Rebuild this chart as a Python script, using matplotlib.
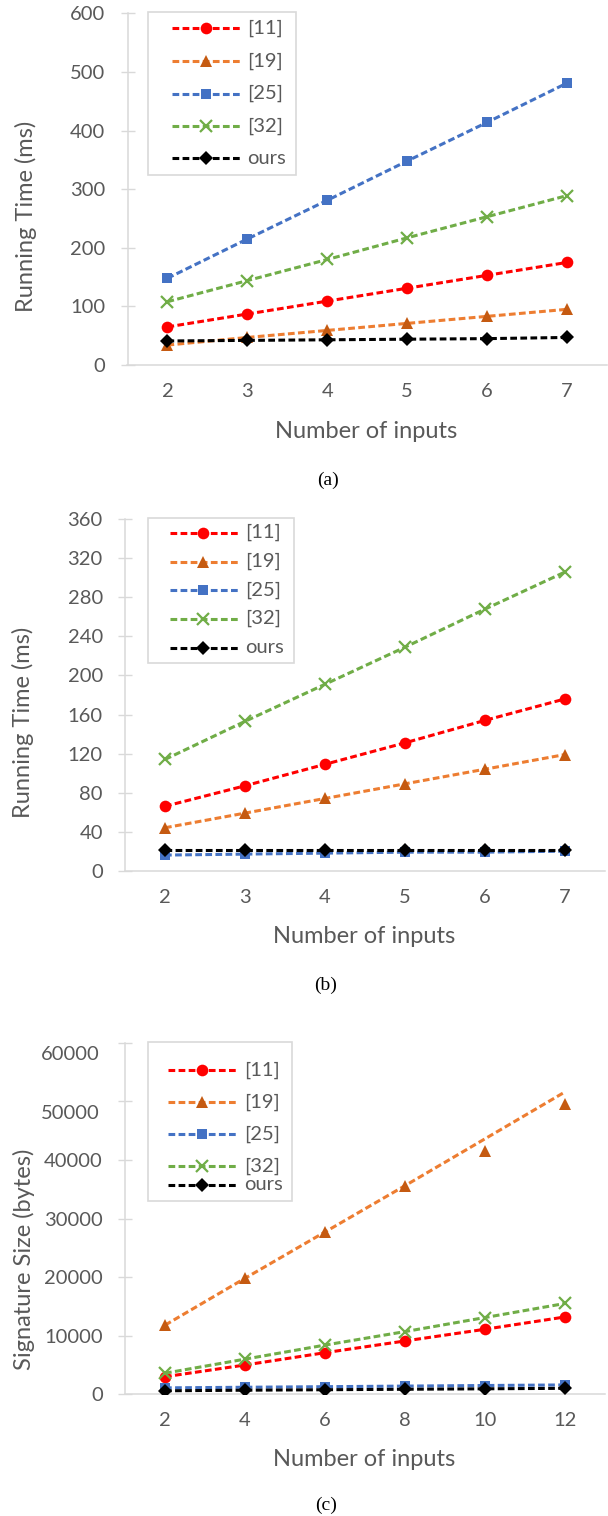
import matplotlib
matplotlib.use("Agg")
import matplotlib.pyplot as plt
from matplotlib.lines import Line2D
from matplotlib.patches import Rectangle

plt.rcParams['font.family'] = ['Lato', 'DejaVu Sans']

# ---------------- data ----------------
series_names = ["[11]", "[19]", "[25]", "[32]", "ours"]

a_x = [2, 3, 4, 5, 6, 7]
a_11 = [65, 87, 109, 131, 153, 175]
a_19 = [34, 47, 59, 71, 83, 95]
a_25 = [148, 215, 281, 348, 414, 481]
a_32 = [108, 144, 180, 217, 253, 289]
a_ours = [41, 42, 43, 44, 45, 47]

b_x = [2, 3, 4, 5, 6, 7]
b_11 = [66, 87, 109, 131, 154, 176]
b_19 = [44, 59, 74, 89, 104, 119]
b_25 = [16, 17, 18, 19, 19, 20]
b_32 = [114, 153, 191, 229, 268, 306]
b_ours = [21, 21, 21, 21, 21, 21]

c_x = [2, 4, 6, 8, 10, 12]
c_11 = [3000, 5000, 7100, 9100, 11100, 13200]
c_19 = [11800, 19800, 27700, 35600, 41500, 49500]
c_19_line = [11800, 19800, 27700, 35600, 43600, 51600]
c_25 = [1100, 1200, 1300, 1400, 1500, 1600]
c_32 = [3600, 6000, 8400, 10700, 13100, 15500]
c_ours = [600, 700, 780, 860, 940, 1020]

a_yticks = [0, 100, 200, 300, 400, 500, 600]
b_yticks = [0, 40, 80, 120, 160, 200, 240, 280, 320, 360]
c_yticks = [0, 10000, 20000, 30000, 40000, 50000, 60000]

# ---------------- style ----------------
W, H = 608, 1516
TXT = '#595959'
AXC = '#D9D9D9'
line_colors = ['#FF0000', '#ED7D31', '#4472C4', '#70AD47', '#000000']
marker_colors = ['#FF0000', '#C55A11', '#4472C4', '#70AD47', '#000000']
markers = ['o', '^', 's', 'x', 'D']
msizes = [8.4, 8.6, 7.4, 8.2, 6.8]
LW = 2.2
DASH = (2.2, 1.1)
TICK_FS = 14.5
LAB_FS = 17
CAP_FS = 14

fig = plt.figure(figsize=(W / 100, H / 100), dpi=100)


def fx(x):
    return x / W


def fy(y):
    return 1 - y / H


def marker_kw(i):
    kw = dict(marker=markers[i], markersize=msizes[i], color=marker_colors[i])
    if markers[i] == 'x':
        kw.update(markeredgewidth=1.6, markeredgecolor=marker_colors[i])
    else:
        kw.update(markeredgewidth=0, markerfacecolor=marker_colors[i])
    return kw


def make_axes(x0, x1, y0, y1):
    ax = fig.add_axes([fx(x0), fy(y1), fx(x1) - fx(x0), (y1 - y0) / H])
    for s in ['top', 'right']:
        ax.spines[s].set_visible(False)
    for s in ['left', 'bottom']:
        ax.spines[s].set_color(AXC)
        ax.spines[s].set_linewidth(1.1)
    ax.tick_params(axis='y', direction='inout', length=10, width=1.0,
                   color=AXC, labelcolor=TXT, labelsize=TICK_FS, pad=11)
    ax.tick_params(axis='x', length=0, labelcolor=TXT, labelsize=TICK_FS, pad=13)
    ax.patch.set_alpha(0)
    return ax


def plot_panel(ax, xs, ys_list, yticks, line_override=None):
    pos = list(range(len(xs)))
    for i, ys in enumerate(ys_list):
        ly = ys
        if line_override is not None and i in line_override:
            ly = line_override[i]
        ax.plot(pos, ly, color=line_colors[i], lw=LW, dashes=DASH,
                zorder=2 + i, dash_capstyle='butt')
        ax.plot(pos, ys, linestyle='none', zorder=2.5 + i, **marker_kw(i))
    ax.set_xlim(-0.5, len(xs) - 0.5)
    ax.set_xticks(pos)
    ax.set_xticklabels([str(v) for v in xs])
    ax.set_ylim(yticks[0], yticks[-1])
    ax.set_yticks(yticks)


def legend(box, ys, hx0, hx1, mx, tx):
    x0, x1, y0, y1 = box
    fig.add_artist(Rectangle((fx(x0), fy(y1)), fx(x1) - fx(x0), (y1 - y0) / H,
                             transform=fig.transFigure, facecolor='white',
                             edgecolor=AXC, lw=1.2, zorder=20))
    for i, y in enumerate(ys):
        fig.add_artist(Line2D([fx(hx0), fx(hx1)], [fy(y), fy(y)],
                              transform=fig.transFigure, color=line_colors[i],
                              lw=LW, dashes=DASH, zorder=21))
        fig.add_artist(Line2D([fx(mx)], [fy(y)], transform=fig.transFigure,
                              linestyle='none', zorder=22, **marker_kw(i)))
        fig.text(fx(tx), fy(y), series_names[i], color=TXT, fontsize=TICK_FS,
                 ha='left', va='center', zorder=23)


# ---------------- panel (a) ----------------
axa = make_axes(127.5, 607, 13.3, 365)
plot_panel(axa, a_x, [a_11, a_19, a_25, a_32, a_ours], a_yticks)
legend((148, 296, 12.3, 175), [28.3, 61, 93.7, 126, 158], 172, 241, 206, 247)
fig.text(fx(366), fy(431), 'Number of inputs', color=TXT, fontsize=LAB_FS,
         ha='center', va='center')
fig.text(fx(25.7), fy(216.7), 'Running Time (ms)', color=TXT, fontsize=LAB_FS,
         ha='center', va='center', rotation=90)
fig.text(fx(328), fy(480), '(a)', family='Liberation Serif', fontsize=CAP_FS,
         color='black', ha='center', va='center')

# ---------------- panel (b) ----------------
axb = make_axes(125, 605, 519.3, 870.7)
plot_panel(axb, b_x, [b_11, b_19, b_25, b_32, b_ours], b_yticks)
legend((147.7, 294, 518.3, 662.7), [532.7, 561.7, 590.3, 618.7, 647.7],
       170, 238, 203, 245)
fig.text(fx(364), fy(936.7), 'Number of inputs', color=TXT, fontsize=LAB_FS,
         ha='center', va='center')
fig.text(fx(23.3), fy(722.8), 'Running Time (ms)', color=TXT, fontsize=LAB_FS,
         ha='center', va='center', rotation=90)
fig.text(fx(325.7), fy(985), '(b)', family='Liberation Serif', fontsize=CAP_FS,
         color='black', ha='center', va='center')

# ---------------- panel (c) ----------------
axc = make_axes(125, 605, 1042.7, 1394.3)
plot_panel(axc, c_x, [c_11, c_19, c_25, c_32, c_ours], c_yticks,
           line_override={1: c_19_line})
# the two top labels sit slightly below their ticks in the original
shifted = {50000, 60000}
axc.set_yticklabels(['' if v in shifted else str(v) for v in c_yticks])
for v in c_yticks:
    if v in shifted:
        axc.annotate(str(v), xy=(0, v), xycoords=axc.get_yaxis_transform(),
                     xytext=(-18.5, -12 * 0.72), textcoords='offset points',
                     ha='right', va='center', color=TXT, fontsize=TICK_FS)
legend((147.7, 292.4, 1041.7, 1201), [1070.3, 1102, 1134.3, 1166, 1185],
       168, 237, 202, 244)
fig.text(fx(364), fy(1460), 'Number of inputs', color=TXT, fontsize=LAB_FS,
         ha='center', va='center')
fig.text(fx(24), fy(1259.7), 'Signature Size (bytes)', color=TXT, fontsize=LAB_FS,
         ha='center', va='center', rotation=90)
fig.text(fx(326), fy(1505), '(c)', family='Liberation Serif', fontsize=CAP_FS,
         color='black', ha='center', va='center')

fig.savefig('out.png', dpi=100)
